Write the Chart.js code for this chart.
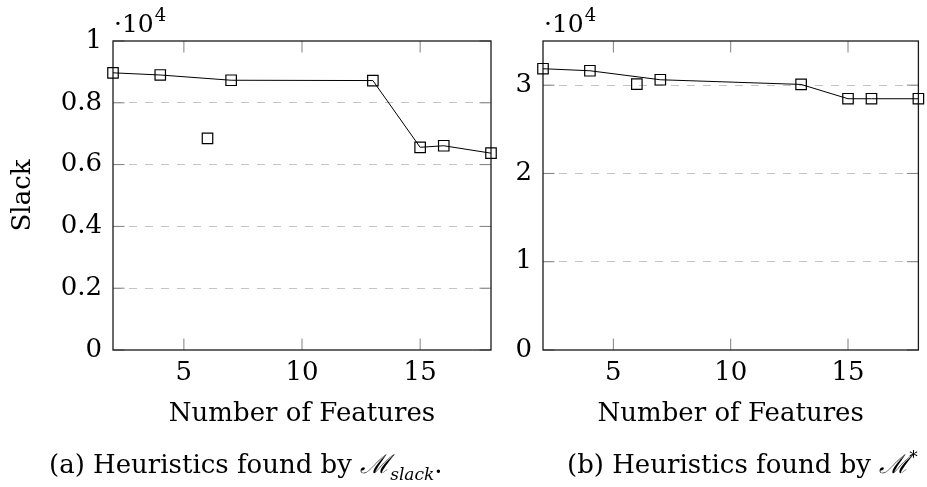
<!DOCTYPE html>
<html>
<head>
<meta charset="utf-8">
<script src="https://cdn.jsdelivr.net/npm/chart.js@4.4.1/dist/chart.umd.min.js"></script>
<style>
  html, body { margin: 0; padding: 0; background: #fff; }
  body { width: 927px; height: 487px; position: relative; overflow: hidden; }
  canvas { position: absolute; top: 0; }
  .cap { position: absolute; top: 451px; font-family: "DejaVu Serif", serif; font-size: 26px; line-height: 26px; color: #000; white-space: nowrap; }
  .cal { font-family: "DejaVu Serif", serif; font-style: italic; }
  .sub { font-style: italic; font-size: 17px; position: relative; top: 7px; }
  .sup { font-size: 17px; position: relative; top: -10px; }
</style>
</head>
<body>
<canvas id="chartA" width="500" height="487" style="left:0px"></canvas>
<canvas id="chartB" width="464" height="487" style="left:463px"></canvas>
<div class="cap" style="left:49px">(a) Heuristics found by <span class="cal">ℳ</span><span class="sub">slack</span>.</div>
<div class="cap" style="left:567px">(b) Heuristics found by <span class="cal">ℳ</span><span class="sup">*</span></div>
<script>
// ---- data ----
const featuresLineA = [2, 4, 7, 13, 15, 16, 18];
const slackLineA    = [8970, 8900, 8730, 8720, 6560, 6610, 6370];
const featuresLoneA = [6];
const slackLoneA    = [6850];

const featuresLineB = [2, 4, 7, 13, 15, 16, 18];
const slackLineB    = [31860, 31630, 30610, 30080, 28460, 28460, 28460];
const featuresLoneB = [6];
const slackLoneB    = [30110];

const xTickValues = [5, 10, 15];
const yTickValuesA = [0, 2000, 4000, 6000, 8000, 10000];
const yTickValuesB = [0, 10000, 20000, 30000];
const xAxisTitle = 'Number of Features';
const yAxisTitleA = 'Slack';
const exponentBase = '·10';
const exponentPower = '4';

const FONT = '"DejaVu Serif", serif';

function pts(xs, ys) { return xs.map((x, i) => ({ x: x, y: ys[i] })); }

const framePlugin = {
  id: 'frame',
  beforeDatasetsDraw(chart) {
    const { ctx, chartArea: a, scales } = chart;
    const x = scales.x, y = scales.y;
    const T = 11.5;
    ctx.save();
    ctx.strokeStyle = '#808080';
    ctx.lineWidth = 1;
    const line = (x1, y1, x2, y2) => { ctx.beginPath(); ctx.moveTo(x1, y1); ctx.lineTo(x2, y2); ctx.stroke(); };
    y.ticks.forEach(t => {
      const p = y.getPixelForValue(t.value);
      line(a.left, p, a.left + T, p);
      line(a.right - T, p, a.right, p);
    });
    x.ticks.forEach(t => {
      const p = x.getPixelForValue(t.value);
      line(p, a.top, p, a.top + T);
      line(p, a.bottom - T, p, a.bottom);
    });
    ctx.strokeStyle = '#1a1a1a';
    ctx.lineWidth = 1.3;
    ctx.strokeRect(a.left, a.top, a.right - a.left, a.bottom - a.top);
    ctx.restore();
  },
  afterDraw(chart) {
    const { ctx, chartArea: a } = chart;
    ctx.save();
    ctx.fillStyle = '#000';
    ctx.textBaseline = 'alphabetic';
    ctx.textAlign = 'left';
    ctx.font = '25px ' + FONT;
    ctx.fillText(exponentBase, a.left + 1, 32);
    const w = ctx.measureText(exponentBase).width;
    ctx.font = '18px ' + FONT;
    ctx.fillText(exponentPower, a.left + 1 + w + 1, 21);
    ctx.restore();
  }
};

function makeChart(id, lineX, lineY, loneX, loneY, yTicks, yMax, yTitle, yWidth, padRight) {
  const yMin = yTicks[0];
  return new Chart(document.getElementById(id), {
    type: 'line',
    data: {
      datasets: [
        {
          data: pts(lineX, lineY),
          borderColor: '#000',
          borderWidth: 1,
          pointStyle: 'rect',
          pointRadius: 7.4,
          pointBorderWidth: 1.2,
          pointBorderColor: '#000',
          pointBackgroundColor: 'rgba(0,0,0,0)',
          backgroundColor: 'rgba(0,0,0,0)',
          tension: 0,
          clip: false
        },
        {
          data: pts(loneX, loneY),
          showLine: false,
          pointStyle: 'rect',
          pointRadius: 7.4,
          pointBorderWidth: 1.2,
          pointBorderColor: '#000',
          pointBackgroundColor: 'rgba(0,0,0,0)',
          clip: false
        }
      ]
    },
    options: {
      responsive: false,
      animation: false,
      devicePixelRatio: 1,
      events: [],
      layout: { padding: { top: 41, right: padRight, bottom: 0, left: 0 } },
      plugins: { legend: { display: false }, tooltip: { enabled: false }, title: { display: false } },
      scales: {
        x: {
          type: 'linear',
          min: 2,
          max: 18,
          afterBuildTicks: s => { s.ticks = xTickValues.map(v => ({ value: v })); },
          afterFit: s => { s.height = 137; },
          grid: { display: false, drawTicks: false },
          border: { display: false },
          ticks: { color: '#000', font: { family: FONT, size: 26 }, padding: 8, maxRotation: 0 },
          title: { display: true, text: xAxisTitle, color: '#000', font: { family: FONT, size: 26 }, padding: { top: 0, bottom: 57 } }
        },
        y: {
          type: 'linear',
          min: yMin,
          max: yMax,
          afterBuildTicks: s => { s.ticks = yTicks.map(v => ({ value: v })); },
          afterFit: s => { s.width = yWidth; },
          grid: {
            drawTicks: false,
            lineWidth: 1,
            color: c => (c.tick && (c.tick.value === yMin || c.tick.value === yMax)) ? 'rgba(0,0,0,0)' : '#c4c4c4'
          },
          border: { display: false, dash: [8, 8] },
          ticks: {
            color: '#000',
            font: { family: FONT, size: 26 },
            padding: 11,
            callback: v => String(Math.round(v / 1000) / 10)
          },
          title: yTitle ? { display: true, text: yTitle, color: '#000', font: { family: FONT, size: 26 }, padding: { top: 8, bottom: 0 } } : { display: false }
        }
      }
    },
    plugins: [framePlugin]
  });
}

makeChart('chartA', featuresLineA, slackLineA, featuresLoneA, slackLoneA, yTickValuesA, 10000, yAxisTitleA, 113, 9);
makeChart('chartB', featuresLineB, slackLineB, featuresLoneB, slackLoneB, yTickValuesB, 35000, null, 80, 5);
</script>
</body>
</html>
